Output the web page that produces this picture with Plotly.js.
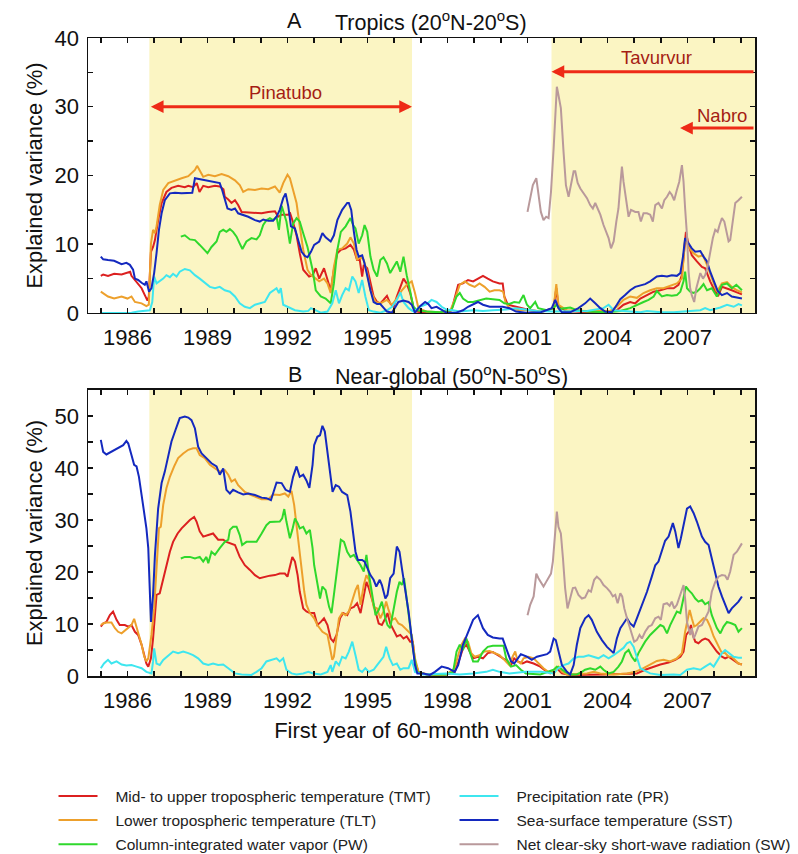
<!DOCTYPE html>
<html>
<head>
<meta charset="utf-8">
<script src="https://cdn.plot.ly/plotly-3.0.1.min.js"></script>
<style>html,body{margin:0;padding:0;background:#fff;}#chart{width:798px;height:854px;}</style>
</head>
<body>
<div id="chart"></div>
<script>
// ---------- Tick definitions ----------
const xTickVals = [1985,1986,1987,1988,1989,1990,1991,1992,1993,1994,1995,1996,1997,1998,1999,2000,2001,2002,2003,2004,2005,2006,2007,2008,2009];
const xTickText = ['','1986','','','1989','','','1992','','','1995','','','1998','','','2001','','','2004','','','2007','',''];
const yTickValsA = [0,5,10,15,20,25,30,35,40];
const yTickTextA = ['0','','10','','20','','30','','40'];
const yTickValsB = [0,5,10,15,20,25,30,35,40,45,50];
const yTickTextB = ['0','','10','','20','','30','','40','','50'];

// ---------- Series names ----------
const seriesNames = {
  TMT: 'Mid- to upper tropospheric temperature (TMT)',
  TLT: 'Lower tropospheric temperature (TLT)',
  PW:  'Column-integrated water vapor (PW)',
  PR:  'Precipitation rate (PR)',
  SST: 'Sea-surface temperature (SST)',
  SW:  'Net clear-sky short-wave radiation (SW)'
};

// ---------- Panel A: Tropics (20N-20S) ----------
const tropicsYearsTMT = [1985.0,1985.09,1985.27,1985.5,1985.78,1986.0,1986.1,1986.15,1986.28,1986.4,1986.53,1986.65,1986.75,1986.8,1986.88,1986.96,1987.03,1987.15,1987.28,1987.46,1987.65,1987.9,1988.15,1988.28,1988.46,1988.6,1988.7,1988.84,1989.03,1989.28,1989.46,1989.6,1989.65,1989.78,1989.9,1990.03,1990.15,1990.28,1990.53,1990.78,1991.03,1991.28,1991.53,1991.65,1991.78,1992.03,1992.1,1992.2,1992.34,1992.46,1992.59,
1992.81,1992.94,1993.06,1993.19,1993.37,1993.5,1993.62,1993.74,1993.87,1994.0,1994.18,1994.36,1994.49,1994.61,1994.71,1994.8,1994.86,1994.99,1995.11,1995.23,1995.36,1995.48,1995.6,1995.73,1995.85,1995.98,1996.1,1996.23,1996.35,1996.47,1996.6,1996.72,1996.85,1997.1,1997.47,1997.71,1997.96,1998.15,1998.27,1998.4,1998.58,1998.77,1998.96,1999.14,1999.33,1999.51,1999.7,1999.95,2000.07,2000.13,2000.26,2000.57,
2000.9,2001.1,2001.48,2001.98,2002.08,2002.16,2002.48,2003.2,2003.98,2004.35,2004.6,2004.85,2005.04,2005.23,2005.48,2005.73,2005.98,2006.23,2006.48,2006.66,2006.79,2006.88,2006.94,2007.04,2007.16,2007.35,2007.54,2007.66,2007.85,2008.04,2008.16,2008.29,2008.48,2008.66,2008.85,2009.04];
const tropicsTMT = [5.4,5.6,5.4,5.7,5.6,5.9,6.0,5.4,4.8,4.3,3.6,2.6,1.8,2.4,8.9,9.6,10.6,13.5,16.0,17.6,18.2,18.5,18.3,18.5,18.3,18.9,17.6,18.5,18.3,18.5,18.4,18.0,16.9,16.5,16.0,16.4,15.7,14.7,14.6,14.6,14.5,14.7,14.8,14.0,14.3,14.3,14.5,13.3,11.3,8.7,6.3,
5.3,5.5,6.5,5.0,6.5,4.8,3.3,6.3,8.7,9.2,9.4,9.9,9.2,7.7,7.7,5.3,7.0,6.5,4.3,2.4,1.6,1.4,1.9,2.5,1.4,0.9,2.4,3.8,5.0,4.3,2.9,0.9,0.2,0.05,0.15,0.05,0.1,0.4,2.4,4.1,4.3,4.8,4.6,5.0,5.4,5.0,4.6,4.3,4.3,2.4,1.2,0.9,
0.6,0.4,0.2,0.7,3.6,0.9,0.3,0.1,0.1,0.4,1.2,1.6,1.4,2.1,2.6,3.1,3.3,3.6,3.6,4.1,5.5,9.4,11.8,9.9,8.4,7.5,6.7,6.5,4.6,3.1,2.6,3.8,3.6,3.3,3.0,2.7];

const tropicsYearsTLT = [1985.0,1985.27,1985.5,1985.78,1986.0,1986.15,1986.28,1986.53,1986.71,1986.8,1986.88,1986.96,1987.03,1987.09,1987.21,1987.34,1987.53,1987.78,1988.03,1988.28,1988.53,1988.61,1988.71,1988.84,1989.03,1989.28,1989.53,1989.78,1990.03,1990.21,1990.34,1990.53,1990.78,1991.03,1991.28,1991.53,1991.71,1991.84,1992.0,1992.09,1992.21,1992.34,1992.46,1992.59,
1992.75,1992.88,1993.06,1993.19,1993.37,1993.5,1993.62,1993.74,1993.87,1994.05,1994.24,1994.36,1994.49,1994.61,1994.74,1994.86,1994.99,1995.11,1995.3,1995.48,1995.73,1995.92,1996.1,1996.29,1996.47,1996.66,1996.78,1996.91,1997.22,1997.71,1998.09,1998.27,1998.46,1998.65,1998.83,1999.02,1999.2,1999.39,1999.58,1999.76,1999.95,2000.09,2000.17,2000.32,2000.7,
2001.1,2001.6,2001.98,2002.08,2002.16,2002.48,2003.2,2004.1,2004.35,2004.6,2004.85,2005.1,2005.35,2005.6,2005.85,2006.1,2006.35,2006.6,2006.79,2006.91,2007.04,2007.22,2007.41,2007.58,2007.73,2007.91,2008.1,2008.29,2008.48,2008.66,2008.85,2009.04];
const tropicsTLT = [3.1,2.4,2.1,2.4,2.1,2.4,1.6,1.4,1.0,1.2,10.1,12.1,11.6,12.6,15.7,17.9,18.9,19.3,19.6,19.9,20.8,21.4,20.6,19.8,20.1,19.9,20.2,19.9,19.3,18.6,17.6,18.0,17.9,18.1,18.0,18.4,17.5,18.9,20.1,19.6,17.9,16.0,12.6,9.2,
6.3,5.5,5.0,4.6,5.0,4.3,2.9,6.7,9.2,9.4,10.1,11.0,10.1,7.7,8.2,7.7,5.8,3.3,1.6,1.4,1.9,1.2,2.1,3.3,4.1,4.6,2.9,0.7,0.2,0.1,0.2,1.9,4.1,4.6,4.1,3.8,4.3,3.8,3.1,3.3,3.3,3.1,1.6,0.7,0.4,
0.4,0.2,0.7,4.2,1.2,0.4,0.3,0.3,0.9,1.9,2.4,2.2,2.9,3.3,3.6,3.6,4.0,4.3,5.0,10.9,9.6,8.7,8.2,8.4,7.0,5.0,3.1,4.3,4.5,3.8,3.3,3.0];

const tropicsYearsPW = [1988.0,1988.15,1988.34,1988.53,1988.71,1988.9,1989.0,1989.15,1989.34,1989.46,1989.59,1989.71,1989.84,1989.96,1990.09,1990.21,1990.31,1990.46,1990.65,1990.84,1990.96,1991.09,1991.21,1991.34,1991.46,1991.59,1991.68,1991.78,1991.88,1991.96,1992.09,1992.21,1992.34,1992.46,
1992.59,1992.75,1992.94,1993.06,1993.25,1993.43,1993.62,1993.74,1993.87,1994.0,1994.18,1994.36,1994.46,1994.55,1994.67,1994.8,1994.89,1994.99,1995.11,1995.23,1995.36,1995.48,1995.6,1995.73,1995.85,1995.98,1996.1,1996.23,1996.35,1996.47,1996.6,1996.72,1996.85,1997.22,1997.71,1998.15,1998.34,1998.46,1998.58,1998.77,1998.96,1999.2,1999.45,1999.7,1999.95,2000.13,2000.32,2000.5,2000.69,
2000.85,2000.98,2001.1,2001.29,2001.4,2001.73,2001.98,2002.08,2002.23,2002.6,2002.85,2003.23,2003.98,2004.48,2004.85,2005.1,2005.35,2005.54,2005.73,2005.85,2006.04,2006.23,2006.41,2006.6,2006.73,2006.85,2006.91,2006.98,2007.1,2007.22,2007.35,2007.48,2007.6,2007.73,2007.91,2008.1,2008.29,2008.48,2008.66,2008.83,2009.04];
const tropicsPW = [11.1,11.3,10.7,10.6,9.9,9.2,8.7,9.6,10.4,11.8,12.1,11.8,12.2,11.8,11.1,10.1,9.3,10.4,10.9,10.7,11.3,12.8,13.5,13.8,13.5,14.0,12.1,15.6,14.5,13.3,10.1,13.0,13.8,13.3,
11.6,9.6,6.3,3.3,2.4,2.1,1.4,4.3,9.2,11.8,12.6,13.8,12.8,12.3,10.1,11.3,12.8,11.8,8.2,6.3,5.3,7.7,8.1,7.2,5.8,6.7,7.5,6.0,8.2,5.5,2.9,0.9,0.4,0.2,0.1,0.4,2.4,2.9,2.1,1.6,1.6,1.9,2.1,2.0,1.9,1.4,1.3,1.6,1.5,
2.6,1.2,0.7,1.6,0.7,0.4,0.7,1.2,0.6,0.8,0.4,0.2,0.1,0.3,0.7,1.2,1.6,1.9,2.4,3.2,2.4,2.6,2.5,2.6,3.1,4.6,6.0,3.6,3.1,2.9,3.1,3.6,4.2,3.3,3.6,2.4,4.1,4.3,3.6,4.1,3.3];

const tropicsYearsPR = [1985.0,1985.78,1986.15,1986.4,1986.65,1986.84,1986.93,1987.0,1987.09,1987.21,1987.34,1987.46,1987.59,1987.71,1987.84,1987.96,1988.15,1988.34,1988.53,1988.71,1988.9,1989.09,1989.28,1989.46,1989.65,1989.84,1990.03,1990.21,1990.4,1990.59,1990.78,1990.96,1991.15,1991.34,1991.46,1991.59,1991.68,1991.75,1991.84,1992.03,1992.28,1992.59,1992.78,
1992.88,1993.06,1993.25,1993.5,1993.68,1993.81,1993.93,1994.05,1994.18,1994.3,1994.43,1994.55,1994.67,1994.8,1994.92,1995.05,1995.23,1995.48,1995.73,1995.92,1996.1,1996.23,1996.35,1996.54,1996.72,1996.97,1997.22,1997.4,1997.59,1997.78,1997.96,1998.2,1998.46,1998.96,1999.33,1999.7,2000.2,2000.57,2000.94,
2001.35,2001.98,2002.6,2003.23,2003.85,2004.04,2004.23,2004.73,2005.23,2005.48,2006.0,2006.48,2006.98,2007.48,2007.66,2007.85,2008.23,2008.48,2008.73,2008.91,2009.04];
const tropicsPR = [0,0,0.05,0.2,0.3,0.4,1.6,5.3,4.3,4.6,5.0,5.5,5.2,5.7,5.3,6.0,6.4,6.2,5.5,5.0,4.4,3.8,3.6,3.8,3.3,3.1,2.4,1.4,0.9,0.7,1.2,1.4,1.6,2.9,3.3,3.6,2.9,3.6,1.2,0.9,0.4,0.2,0.3,
0.7,0.4,0.05,0.2,1.4,3.3,1.4,2.6,3.6,3.3,5.3,4.6,2.9,4.8,2.4,0.4,0.2,0.05,0.4,0.9,1.9,3.0,1.6,0.7,0.2,0.9,1.3,1.9,1.6,0.9,0.5,0.4,0.2,0.4,0.3,0.4,0.5,0.7,0.5,
0.3,0.2,0.2,0.3,0.7,1.2,0.4,0.2,0.1,0.3,0.1,0.1,0.3,0.4,0.7,0.4,0.8,1.2,0.9,1.3,1.1];

const tropicsYearsSST = [1985.0,1985.09,1985.27,1985.5,1985.78,1985.96,1986.09,1986.21,1986.28,1986.4,1986.53,1986.65,1986.71,1986.81,1986.9,1987.0,1987.09,1987.18,1987.28,1987.4,1987.59,1987.78,1988.03,1988.28,1988.43,1988.53,1988.78,1989.03,1989.28,1989.46,1989.55,1989.65,1989.75,1989.9,1990.03,1990.15,1990.34,1990.53,1990.78,1990.96,1991.09,1991.28,1991.46,1991.59,1991.71,1991.84,1991.93,1992.03,1992.13,1992.28,1992.4,1992.53,1992.65,
1992.75,1992.88,1993.0,1993.19,1993.31,1993.43,1993.62,1993.74,1993.87,1994.05,1994.24,1994.3,1994.39,1994.49,1994.59,1994.67,1994.8,1994.89,1994.99,1995.11,1995.23,1995.36,1995.48,1995.6,1995.73,1995.92,1996.04,1996.16,1996.35,1996.54,1996.66,1996.78,1996.97,1997.16,1997.28,1997.4,1997.59,1997.78,1997.96,1998.33,1998.58,1998.77,1998.96,1999.14,1999.33,1999.58,1999.82,2000.07,2000.32,2000.57,2000.94,
2001.5,2001.91,2002.04,2002.16,2002.29,2002.6,2002.91,2003.16,2003.35,2003.54,2003.73,2003.91,2004.16,2004.35,2004.48,2004.66,2004.85,2005.04,2005.23,2005.41,2005.6,2005.73,2005.85,2006.04,2006.23,2006.41,2006.6,2006.73,2006.83,2006.91,2007.04,2007.16,2007.29,2007.48,2007.6,2007.73,2007.85,2007.98,2008.13,2008.29,2008.48,2008.66,2008.85,2009.04];
const tropicsSST = [8.2,7.8,7.7,7.6,7.1,7.3,7.0,6.3,5.0,4.8,4.4,4.1,4.6,3.1,3.6,5.8,8.7,12.1,14.5,16.4,17.4,17.5,17.4,17.5,17.5,19.6,19.4,19.2,19.1,18.9,17.9,16.4,15.2,15.0,15.2,14.5,14.3,14.0,13.5,13.3,13.6,13.4,13.4,14.0,15.0,16.7,17.4,15.5,12.6,12.3,10.6,8.9,8.3,
8.1,8.9,9.9,10.4,11.6,11.0,10.4,11.3,13.5,15.0,16.0,16.0,15.0,11.8,9.2,8.2,8.4,7.2,5.3,3.3,1.6,1.3,1.3,0.7,0.2,0.05,0.9,1.6,1.8,1.6,1.2,0.05,1.0,1.6,1.3,0.7,0.9,0.4,0.05,0.05,0.4,0.9,1.2,1.6,1.2,0.9,0.9,0.9,0.7,0.2,0.05,
0.1,0.7,1.9,0.7,0.1,0.1,0.7,1.4,2.1,1.4,0.7,0.2,0.1,1.2,2.0,2.6,3.3,3.8,4.0,4.2,4.6,4.9,5.3,5.4,5.3,5.5,5.4,5.8,8.2,10.9,10.1,9.4,8.9,9.0,8.2,7.5,6.0,4.6,3.2,2.6,2.9,2.4,2.2,2.1];

const tropicsYearsSW = [2001.0,2001.1,2001.2,2001.33,2001.41,2001.5,2001.6,2001.7,2001.79,2001.88,2001.98,2002.04,2002.1,2002.16,2002.25,2002.35,2002.44,2002.54,2002.63,2002.73,2002.79,2002.88,2002.98,2003.1,2003.23,2003.35,2003.45,2003.54,2003.63,2003.73,2003.85,2003.95,2004.04,2004.13,2004.23,2004.33,2004.41,2004.48,2004.54,2004.6,2004.7,2004.79,2004.88,2005.04,2005.16,2005.25,2005.35,2005.48,2005.6,2005.7,2005.79,2005.91,2006.04,2006.13,2006.23,2006.33,2006.41,2006.5,2006.6,2006.69,2006.79,2006.85,2006.91,2006.98,2007.04,2007.1,2007.16,2007.25,2007.33,2007.41,2007.48,2007.58,2007.66,2007.75,2007.85,2007.95,2008.04,2008.13,2008.2,2008.29,2008.38,2008.45,2008.54,2008.6,2008.7,2008.79,2008.91,2009.04];
const tropicsSW = [14.7,16.7,18.6,19.6,17.2,14.7,13.5,14.0,13.8,17.6,24.0,28.8,32.9,31.7,29.8,23.5,18.6,16.9,18.6,20.6,20.6,18.9,18.1,17.4,16.7,15.7,15.2,16.0,15.2,14.3,12.8,11.8,10.9,9.4,10.4,13.3,15.2,18.6,21.3,19.1,16.2,14.0,15.0,14.7,14.7,13.3,14.5,14.5,14.3,13.3,15.7,16.0,15.2,16.4,16.9,17.6,17.2,16.4,17.9,19.1,21.5,19.1,15.2,11.3,6.0,3.6,2.6,1.6,3.6,4.8,5.8,5.0,5.5,6.7,8.9,10.9,12.1,11.8,12.8,13.8,13.3,11.8,10.4,10.6,13.3,16.0,16.4,16.9];

// ---------- Panel B: Near-global (50N-50S) ----------
const globalYearsTMT = [1985.0,1985.09,1985.21,1985.34,1985.46,1985.59,1985.71,1985.9,1986.03,1986.15,1986.28,1986.4,1986.53,1986.63,1986.71,1986.78,1986.88,1986.96,1987.09,1987.21,1987.34,1987.46,1987.59,1987.71,1987.88,1988.03,1988.21,1988.34,1988.5,1988.59,1988.71,1988.84,1989.03,1989.21,1989.4,1989.59,1989.71,1989.84,1990.03,1990.21,1990.4,1990.59,1990.78,1990.96,1991.15,1991.34,1991.53,1991.71,1991.9,1992.0,1992.09,1992.18,1992.28,1992.38,1992.46,1992.59,1992.71,1992.84,
1993.0,1993.12,1993.25,1993.37,1993.5,1993.62,1993.72,1993.84,1993.97,1994.09,1994.24,1994.36,1994.49,1994.61,1994.74,1994.86,1994.96,1995.05,1995.17,1995.3,1995.42,1995.54,1995.67,1995.75,1995.85,1995.98,1996.1,1996.23,1996.35,1996.47,1996.6,1996.7,1996.78,1996.91,1997.22,1997.96,1998.27,1998.46,1998.58,1998.71,1998.81,1998.96,1999.14,1999.33,1999.51,1999.7,1999.89,2000.07,2000.26,2000.38,2000.5,2000.63,
2000.82,2000.98,2001.23,2001.48,2001.73,2001.98,2002.1,2002.29,2002.6,2003.85,2005.1,2005.41,2005.73,2005.98,2006.29,2006.54,2006.73,2006.85,2006.95,2007.04,2007.13,2007.2,2007.29,2007.41,2007.54,2007.66,2007.79,2007.91,2008.1,2008.29,2008.41,2008.54,2008.73,2008.91,2009.04];
const globalTMT = [9.5,10.1,10.4,11.7,12.4,10.8,9.8,9.8,9.5,9.8,8.5,7.9,6.0,3.7,2.4,1.8,3.4,7.2,15.6,15.9,18.8,21.3,23.9,25.8,27.4,28.4,29.4,30.0,30.6,29.7,27.8,26.8,27.1,27.4,26.2,26.2,25.8,25.5,25.2,22.9,21.3,20.4,19.4,18.8,19.1,19.3,19.4,19.7,19.7,19.1,21.0,22.9,22.0,19.4,16.2,13.0,12.4,12.1,
12.1,9.8,10.4,11.1,9.8,7.2,6.6,7.9,11.1,12.1,11.7,13.0,13.3,14.0,12.1,15.6,18.1,16.9,14.9,12.4,10.1,9.8,11.1,12.1,10.1,8.8,7.6,7.9,7.2,7.6,6.6,6.6,2.8,0.8,0.3,0.3,0.8,3.4,5.3,6.0,5.0,3.4,3.7,3.4,4.4,4.6,4.0,3.4,2.8,2.1,3.4,2.8,
2.4,2.8,2.4,1.8,0.8,0.5,1.5,0.5,0.2,0.3,0.5,1.2,1.8,2.2,2.6,3.1,3.7,4.7,7.9,8.5,9.8,7.9,6.6,6.3,6.9,7.2,6.9,6.0,4.7,3.7,3.4,3.7,3.1,2.4,2.2];

const globalYearsTLT = [1985.0,1985.09,1985.21,1985.4,1985.53,1985.65,1985.78,1985.96,1986.09,1986.15,1986.25,1986.34,1986.43,1986.53,1986.63,1986.71,1986.78,1986.84,1986.9,1987.0,1987.09,1987.18,1987.25,1987.34,1987.46,1987.59,1987.75,1987.9,1988.09,1988.28,1988.46,1988.59,1988.71,1988.9,1989.09,1989.28,1989.46,1989.65,1989.78,1989.9,1990.03,1990.15,1990.28,1990.4,1990.59,1990.78,1991.03,1991.28,1991.46,1991.71,1991.9,1992.03,1992.15,1992.25,1992.34,1992.43,1992.53,1992.63,1992.71,1992.84,
1993.0,1993.12,1993.31,1993.5,1993.62,1993.68,1993.74,1993.84,1993.93,1994.05,1994.18,1994.3,1994.43,1994.55,1994.64,1994.74,1994.86,1994.96,1995.05,1995.13,1995.23,1995.36,1995.48,1995.6,1995.7,1995.79,1995.92,1996.04,1996.16,1996.29,1996.41,1996.54,1996.66,1996.78,1996.91,1997.09,1997.47,1997.96,1998.27,1998.4,1998.52,1998.65,1998.77,1998.89,1999.02,1999.2,1999.39,1999.58,1999.76,1999.95,2000.13,2000.32,2000.44,2000.54,2000.63,
2000.75,2000.85,2001.04,2001.23,2001.41,2001.6,2001.85,2002.04,2002.16,2002.29,2002.48,2003.23,2003.48,2003.73,2004.23,2004.73,2005.04,2005.35,2005.6,2005.85,2006.1,2006.35,2006.6,2006.79,2006.91,2007.0,2007.08,2007.16,2007.25,2007.35,2007.48,2007.6,2007.73,2007.85,2007.98,2008.13,2008.29,2008.41,2008.54,2008.66,2008.79,2008.91,2009.04];
const globalTLT = [9.8,10.1,10.3,10.3,9.2,8.5,8.2,9.0,9.5,9.8,11.0,9.5,7.9,6.0,3.7,2.8,3.4,5.3,7.9,13.0,21.3,28.4,28.7,32.9,36.1,38.3,40.3,41.9,42.8,43.5,43.8,43.8,42.5,41.9,40.6,39.9,39.3,39.6,38.7,37.4,37.8,36.7,36.1,35.4,34.9,34.5,34.0,34.0,34.9,34.8,35.1,34.5,35.6,32.9,29.0,24.6,20.1,16.2,13.7,12.1,
11.1,9.8,8.5,7.9,4.7,3.1,3.7,7.2,11.1,12.1,11.7,12.4,14.6,16.5,17.5,13.7,17.5,19.4,18.5,16.2,13.3,13.0,11.1,12.4,14.3,12.7,10.8,11.1,10.1,9.8,9.2,8.5,7.9,3.4,0.8,0.5,0.2,0.3,1.5,4.0,6.0,7.2,6.6,4.4,3.7,4.0,4.7,4.8,4.4,4.0,3.1,2.1,3.7,4.7,2.8,
2.4,3.4,3.7,3.4,2.4,1.5,0.5,1.2,1.8,0.8,0.3,0.5,0.8,0.5,0.3,0.5,0.8,1.5,2.2,2.9,3.1,2.8,3.4,4.4,8.5,11.1,12.7,11.1,9.5,9.8,10.4,11.1,10.8,9.5,7.6,6.0,4.4,4.4,3.7,3.7,3.1,2.4,2.2];

const globalYearsPW = [1988.0,1988.15,1988.34,1988.53,1988.71,1988.84,1988.96,1989.03,1989.15,1989.28,1989.46,1989.65,1989.78,1989.84,1989.96,1990.09,1990.21,1990.3,1990.46,1990.65,1990.84,1991.03,1991.21,1991.34,1991.53,1991.71,1991.8,1991.88,1991.96,1992.03,1992.09,1992.18,1992.28,1992.38,1992.46,1992.59,1992.71,1992.84,
1992.94,1993.0,1993.12,1993.22,1993.31,1993.43,1993.56,1993.65,1993.74,1993.87,1994.0,1994.12,1994.24,1994.36,1994.49,1994.61,1994.74,1994.86,1994.96,1995.05,1995.17,1995.3,1995.42,1995.54,1995.67,1995.75,1995.85,1995.98,1996.1,1996.2,1996.29,1996.37,1996.47,1996.6,1996.72,1996.85,1997.22,1997.96,1998.21,1998.34,1998.46,1998.58,1998.71,1998.83,1998.96,1999.14,1999.33,1999.51,1999.7,1999.95,2000.1,2000.2,2000.38,2000.57,2000.75,
2000.94,2001.48,2001.98,2002.1,2002.23,2002.41,2002.6,2002.85,2003.04,2003.16,2003.35,2003.54,2003.73,2003.85,2004.04,2004.23,2004.41,2004.54,2004.66,2004.79,2004.91,2005.04,2005.16,2005.29,2005.41,2005.6,2005.73,2005.85,2005.98,2006.1,2006.23,2006.35,2006.48,2006.6,2006.73,2006.85,2006.94,2007.04,2007.16,2007.29,2007.41,2007.54,2007.66,2007.79,2007.91,2008.1,2008.23,2008.35,2008.48,2008.66,2008.79,2008.91,2009.04];
const globalPW = [22.6,22.9,22.9,22.6,22.9,22.0,22.9,21.7,23.9,23.3,24.6,25.8,26.2,28.1,28.7,28.7,27.1,25.2,25.8,25.8,25.8,27.4,29.0,29.6,29.6,29.7,30.3,32.1,29.7,27.8,26.5,28.1,30.3,29.4,28.4,28.7,27.4,28.1,
24.6,21.3,17.5,14.9,17.2,16.5,13.3,12.1,15.6,21.3,26.2,25.8,23.9,22.9,23.3,22.3,21.3,20.1,23.3,19.7,16.2,11.7,12.7,14.3,11.1,9.8,9.2,13.0,16.2,18.1,17.5,18.8,14.9,9.8,4.7,0.8,0.3,0.3,0.8,4.7,6.0,5.0,7.2,4.7,2.8,2.8,4.7,5.6,5.8,5.8,5.8,3.4,1.8,2.1,1.2,
0.5,0.3,1.2,1.8,1.5,0.8,0.3,0.3,0.8,1.2,1.5,1.2,1.8,1.2,0.5,0.8,1.8,2.8,4.4,5.0,3.7,2.8,4.4,5.6,6.6,7.9,8.5,9.2,9.8,9.5,8.2,9.8,11.1,12.4,12.1,14.9,17.2,16.5,15.9,14.9,14.3,14.6,13.8,14.2,11.7,9.2,8.2,9.5,10.4,10.1,9.8,8.5,9.2];

const globalYearsPR = [1985.0,1985.12,1985.27,1985.4,1985.59,1985.78,1985.96,1986.15,1986.34,1986.53,1986.71,1986.9,1986.96,1987.0,1987.09,1987.21,1987.34,1987.53,1987.71,1987.9,1988.09,1988.28,1988.46,1988.65,1988.84,1989.03,1989.21,1989.4,1989.59,1989.78,1990.03,1990.28,1990.65,1990.84,1991.03,1991.21,1991.4,1991.59,1991.71,1991.84,1991.96,1992.15,1992.34,1992.59,1992.78,1992.96,
1993.25,1993.5,1993.62,1993.68,1993.81,1993.93,1994.05,1994.18,1994.3,1994.43,1994.55,1994.67,1994.8,1994.92,1995.05,1995.23,1995.36,1995.48,1995.6,1995.7,1995.83,1995.95,1996.1,1996.23,1996.35,1996.54,1996.66,1996.78,1997.09,1997.96,1998.46,1998.96,1999.45,1999.7,1999.95,2000.32,2000.94,
2001.5,2001.98,2002.16,2002.35,2002.54,2002.73,2002.91,2003.1,2003.29,2003.48,2003.66,2003.85,2004.04,2004.23,2004.41,2004.6,2004.73,2004.85,2004.98,2005.1,2005.23,2005.41,2005.6,2005.98,2006.48,2006.73,2006.98,2007.23,2007.48,2007.66,2007.85,2007.98,2008.16,2008.29,2008.41,2008.54,2008.73,2008.91,2009.04];
const globalPR = [1.5,2.4,3.1,2.4,2.8,2.2,2.0,2.1,1.8,1.5,0.8,0.5,2.8,5.3,2.4,2.1,3.1,4.0,4.7,4.4,4.7,4.4,4.0,3.4,2.4,2.1,2.4,2.1,2.2,1.5,0.5,0.3,0.2,0.8,1.5,2.8,3.1,3.4,2.8,3.4,1.2,0.5,0.3,0.5,0.8,0.5,
0.3,0.8,2.1,0.8,2.8,2.1,3.7,3.4,4.7,6.6,4.0,1.2,0.8,1.5,0.8,1.2,2.1,2.8,3.7,5.6,3.4,2.1,2.4,1.2,1.5,1.5,3.1,0.8,0.3,0.5,0.3,0.5,0.8,1.2,0.8,0.5,0.8,
0.8,0.5,1.5,2.1,2.4,3.4,3.7,3.7,4.0,3.7,3.4,4.0,3.4,4.0,4.7,5.4,6.3,6.6,5.6,3.4,1.5,1.0,0.5,0.2,0.3,0.2,1.2,1.5,1.2,1.8,2.4,1.8,3.4,4.4,5.0,4.4,3.7,3.5,3.5];

const globalYearsSST = [1985.0,1985.09,1985.21,1985.4,1985.65,1985.84,1985.96,1986.03,1986.15,1986.25,1986.34,1986.43,1986.53,1986.63,1986.71,1986.78,1986.84,1986.88,1986.96,1987.03,1987.15,1987.28,1987.4,1987.53,1987.65,1987.8,1987.96,1988.15,1988.28,1988.4,1988.53,1988.65,1988.78,1988.96,1989.15,1989.34,1989.46,1989.59,1989.71,1989.84,1989.96,1990.15,1990.34,1990.53,1990.78,1991.03,1991.21,1991.38,1991.46,1991.59,1991.78,1991.93,1992.09,1992.21,1992.34,1992.46,
1992.59,1992.71,1992.82,1992.94,1993.0,1993.12,1993.22,1993.31,1993.4,1993.5,1993.6,1993.69,1993.81,1993.93,1994.05,1994.24,1994.36,1994.46,1994.55,1994.64,1994.8,1994.89,1994.99,1995.11,1995.23,1995.33,1995.46,1995.54,1995.67,1995.75,1995.85,1995.98,1996.1,1996.2,1996.29,1996.41,1996.54,1996.66,1996.78,1996.87,1997.09,1997.34,1997.53,1997.78,1998.02,1998.27,1998.4,1998.58,1998.77,1998.96,1999.14,1999.33,1999.51,1999.7,1999.95,2000.07,2000.2,2000.38,2000.5,2000.63,
2000.75,2000.98,2001.16,2001.35,2001.54,2001.73,2001.85,2001.98,2002.06,2002.16,2002.29,2002.48,2002.6,2002.73,2002.85,2002.98,2003.16,2003.29,2003.41,2003.6,2003.79,2003.98,2004.1,2004.23,2004.35,2004.48,2004.6,2004.73,2004.85,2004.98,2005.1,2005.29,2005.48,2005.66,2005.79,2005.91,2006.04,2006.16,2006.29,2006.38,2006.45,2006.54,2006.66,2006.75,2006.88,2006.98,2007.1,2007.23,2007.35,2007.54,2007.66,2007.79,2007.91,2008.04,2008.16,2008.29,2008.41,2008.54,2008.66,2008.79,2008.91,2009.04];
const globalSST = [45.4,43.1,42.6,43.1,43.8,44.4,45.2,44.7,42.5,40.6,40.3,38.3,34.8,31.6,28.4,24.6,13.7,10.4,15.6,23.3,32.2,37.1,39.3,42.5,45.1,47.3,49.6,49.9,49.7,49.2,47.6,44.1,42.8,41.9,40.9,40.3,38.7,39.9,35.8,35.1,35.8,35.3,34.9,35.1,34.8,34.3,34.2,33.8,35.1,37.2,37.1,35.8,35.4,38.3,40.3,38.3,
38.7,37.6,36.2,40.6,44.4,46.0,46.3,48.1,47.0,43.1,39.3,35.4,36.7,36.4,35.4,34.8,31.6,27.1,23.9,22.3,22.3,22.0,20.7,19.4,18.5,17.2,18.5,17.5,14.9,15.6,18.8,19.7,24.9,23.9,20.7,16.9,12.4,7.2,2.1,0.5,0.5,0.2,0.8,1.8,1.5,0.8,2.1,6.0,8.5,10.8,11.7,9.2,7.9,7.4,7.2,7.2,5.3,2.8,2.4,3.4,
4.2,3.7,3.1,3.7,3.9,4.2,4.7,7.2,6.9,4.7,2.1,0.8,0.3,2.1,6.0,9.2,11.1,11.7,10.8,8.5,6.9,5.6,5.0,4.4,7.2,9.2,10.1,11.1,10.1,9.5,11.1,13.7,16.2,19.1,21.3,22.0,23.9,26.0,26.8,28.4,29.4,27.8,24.6,26.5,30.0,32.2,32.6,31.3,29.7,26.8,25.8,25.2,22.6,19.7,17.2,15.3,13.8,12.1,13.0,13.7,14.3,15.3];

const globalYearsSW = [2001.0,2001.1,2001.23,2001.33,2001.41,2001.5,2001.6,2001.7,2001.79,2001.88,2001.95,2002.03,2002.1,2002.16,2002.25,2002.33,2002.41,2002.5,2002.6,2002.7,2002.79,2002.91,2003.04,2003.16,2003.29,2003.38,2003.5,2003.6,2003.73,2003.85,2003.98,2004.1,2004.2,2004.29,2004.38,2004.48,2004.55,2004.63,2004.73,2004.83,2004.91,2005.0,2005.1,2005.2,2005.29,2005.41,2005.54,2005.66,2005.79,2005.91,2006.0,2006.1,2006.23,2006.33,2006.41,2006.5,2006.6,2006.7,2006.79,2006.85,2006.91,2006.98,2007.04,2007.1,2007.16,2007.23,2007.29,2007.41,2007.54,2007.66,2007.79,2007.91,2008.04,2008.16,2008.29,2008.41,2008.5,2008.6,2008.73,2008.85,2008.95,2009.04];
const globalSW = [11.7,13.7,15.3,19.7,18.8,18.1,17.2,18.1,18.8,19.7,22.0,27.8,31.6,28.7,27.4,22.6,16.9,13.0,14.9,16.9,17.0,15.6,14.9,15.1,16.5,16.2,18.5,19.1,18.5,17.5,16.9,16.2,15.3,15.6,14.0,15.9,15.3,13.0,11.1,9.5,7.9,6.6,6.9,7.9,7.2,8.5,9.5,9.8,11.1,11.4,10.8,13.8,14.0,13.5,14.3,13.0,13.7,15.3,16.5,17.5,14.9,10.4,9.2,7.9,9.2,7.2,7.9,9.5,9.8,11.1,12.4,16.2,18.1,19.1,19.4,19.3,18.5,20.1,23.3,23.9,24.9,25.5];

// ---------- Volcanic windows and labels ----------
const pinatuboWindow = [1986.82, 1996.67];
const tavurvurStartA = 2001.9;
const tavurvurStartB = 2001.99;
const nabroStart = 2006.72;
const xRange = [1984.52, 2009.53];

// ---------- Styling ----------
const FONT = 'Liberation Sans, Arial, Helvetica, sans-serif';
const colors = {TMT:'#dc2020', TLT:'#eda02c', PW:'#2fd82c', PR:'#3ee6ef', SST:'#1429bf', SW:'#b9999b'};
const SHADE = '#fbf5c3';
const ARROW = '#ee2a17';
const LABEL = '#a51d14';
const LEGEND_PAD = '\u00a0\u00a0\u00a0';   // visual gap between legend line and its label

function mk(x, y, key, panel, legendId) {
  return {
    x: x, y: y, type: 'scatter', mode: 'lines',
    name: LEGEND_PAD + seriesNames[key],
    legend: legendId, legendgroup: key,
    showlegend: panel === 'A',
    xaxis: panel === 'A' ? 'x' : 'x2',
    yaxis: panel === 'A' ? 'y' : 'y2',
    line: {color: colors[key], width: 2},
    hoverinfo: 'skip'
  };
}

const data = [
  mk(tropicsYearsTMT, tropicsTMT, 'TMT', 'A', 'legend'),
  mk(tropicsYearsTLT, tropicsTLT, 'TLT', 'A', 'legend'),
  mk(tropicsYearsPW,  tropicsPW,  'PW',  'A', 'legend'),
  mk(tropicsYearsPR,  tropicsPR,  'PR',  'A', 'legend2'),
  mk(tropicsYearsSST, tropicsSST, 'SST', 'A', 'legend2'),
  mk(tropicsYearsSW,  tropicsSW,  'SW',  'A', 'legend2'),
  mk(globalYearsTMT, globalTMT, 'TMT', 'B', 'legend'),
  mk(globalYearsTLT, globalTLT, 'TLT', 'B', 'legend'),
  mk(globalYearsPW,  globalPW,  'PW',  'B', 'legend'),
  mk(globalYearsPR,  globalPR,  'PR',  'B', 'legend2'),
  mk(globalYearsSST, globalSST, 'SST', 'B', 'legend2'),
  mk(globalYearsSW,  globalSW,  'SW',  'B', 'legend2')
];

const axisCommon = {
  showline: true, linecolor: '#111', linewidth: 1.5, mirror: 'ticks',
  ticks: 'inside', ticklen: 5, tickwidth: 1.5, tickcolor: '#111',
  showgrid: false, zeroline: false,
  tickfont: {family: FONT, size: 22, color: '#111'},
  tickmode: 'array', fixedrange: true
};

const xCommon = Object.assign({}, axisCommon, {range: xRange, tickvals: xTickVals, ticktext: xTickText, ticklabelstandoff: 4});

const legendCommon = {
  xanchor: 'left', y: -0.1620, yanchor: 'top', orientation: 'v',
  font: {family: FONT, size: 15.5, color: '#222'}, itemwidth: 39,
  tracegroupgap: 1, bgcolor: 'rgba(0,0,0,0)', borderwidth: 0
};

const layout = {
  width: 798, height: 854,
  margin: {l: 88, r: 43, t: 38, b: 178, autoexpand: false},
  paper_bgcolor: '#ffffff', plot_bgcolor: '#ffffff',
  font: {family: FONT, size: 22, color: '#111'},
  showlegend: true,
  xaxis: Object.assign({}, xCommon, {anchor: 'y', domain: [0, 1]}),
  yaxis: Object.assign({}, axisCommon, {anchor: 'x', domain: [0.569, 1], range: [0, 40], tickvals: yTickValsA, ticktext: yTickTextA,
    ticklabelstandoff: 3,
    title: {text: 'Explained variance (%)', font: {family: FONT, size: 22, color: '#111'}, standoff: 6}}),
  xaxis2: Object.assign({}, xCommon, {anchor: 'y2', domain: [0, 1],
    title: {text: 'First year of 60-month window', font: {family: FONT, size: 22, color: '#111'}, standoff: 10}}),
  yaxis2: Object.assign({}, axisCommon, {anchor: 'x2', domain: [0, 0.4483], range: [0, 55], tickvals: yTickValsB, ticktext: yTickTextB,
    ticklabelstandoff: 3,
    title: {text: 'Explained variance (%)', font: {family: FONT, size: 22, color: '#111'}, standoff: 6}}),
  legend: Object.assign({}, legendCommon, {x: -0.0517}),
  legend2: Object.assign({}, legendCommon, {x: 0.5495}),
  shapes: [
    {type: 'rect', xref: 'x', yref: 'y domain', x0: pinatuboWindow[0], x1: pinatuboWindow[1], y0: 0, y1: 1, fillcolor: SHADE, line: {width: 0}, layer: 'below'},
    {type: 'rect', xref: 'x', yref: 'y domain', x0: tavurvurStartA, x1: xRange[1], y0: 0, y1: 1, fillcolor: SHADE, line: {width: 0}, layer: 'below'},
    {type: 'rect', xref: 'x2', yref: 'y2 domain', x0: pinatuboWindow[0], x1: pinatuboWindow[1], y0: 0, y1: 1, fillcolor: SHADE, line: {width: 0}, layer: 'below'},
    {type: 'rect', xref: 'x2', yref: 'y2 domain', x0: tavurvurStartB, x1: xRange[1], y0: 0, y1: 1, fillcolor: SHADE, line: {width: 0}, layer: 'below'}
  ],
  annotations: [
    // Panel titles
    {xref: 'paper', yref: 'paper', x: 0.3103, y: 1.0274, xanchor: 'center', yanchor: 'middle', showarrow: false, text: 'A', font: {family: FONT, size: 21.5, color: '#111'}},
    {xref: 'paper', yref: 'paper', x: 0.3673, y: 1.0274, xanchor: 'left', yanchor: 'middle', showarrow: false, text: 'Tropics (20<sup>o</sup>N-20<sup>o</sup>S)', font: {family: FONT, size: 21.5, color: '#111'}},
    {xref: 'paper', yref: 'paper', x: 0.3103, y: 0.4718, xanchor: 'center', yanchor: 'middle', showarrow: false, text: 'B', font: {family: FONT, size: 21.5, color: '#111'}},
    {xref: 'paper', yref: 'paper', x: 0.3673, y: 0.4718, xanchor: 'left', yanchor: 'middle', showarrow: false, text: 'Near-global (50<sup>o</sup>N-50<sup>o</sup>S)', font: {family: FONT, size: 21.5, color: '#111'}},
    // Pinatubo double arrow
    {xref: 'x', yref: 'y', axref: 'x', ayref: 'y', x: pinatuboWindow[1], y: 30, ax: pinatuboWindow[0], ay: 30, text: '', showarrow: true,
      arrowside: 'end+start', arrowhead: 2, startarrowhead: 2, arrowsize: 0.85, startarrowsize: 0.85, arrowwidth: 3, arrowcolor: ARROW, standoff: 0, startstandoff: 0},
    {xref: 'x', yref: 'y', x: 1991.91, y: 32.1, text: 'Pinatubo', showarrow: false, font: {family: FONT, size: 18.5, color: LABEL}},
    // Tavurvur arrow
    {xref: 'x', yref: 'y', axref: 'x', ayref: 'y', x: tavurvurStartA, y: 35.1, ax: xRange[1], ay: 35.1, text: '', showarrow: true,
      arrowhead: 2, arrowsize: 0.85, arrowwidth: 3, arrowcolor: ARROW, standoff: 0},
    {xref: 'x', yref: 'y', x: 2005.84, y: 37.2, text: 'Tavurvur', showarrow: false, font: {family: FONT, size: 18.5, color: LABEL}},
    // Nabro arrow
    {xref: 'x', yref: 'y', axref: 'x', ayref: 'y', x: nabroStart, y: 26.9, ax: xRange[1], ay: 26.9, text: '', showarrow: true,
      arrowhead: 2, arrowsize: 0.85, arrowwidth: 3, arrowcolor: ARROW, standoff: 0},
    {xref: 'x', yref: 'y', x: 2008.3, y: 28.7, text: 'Nabro', showarrow: false, font: {family: FONT, size: 18.5, color: LABEL}}
  ]
};

Plotly.newPlot('chart', data, layout, {staticPlot: true, displayModeBar: false});
</script>
</body>
</html>
